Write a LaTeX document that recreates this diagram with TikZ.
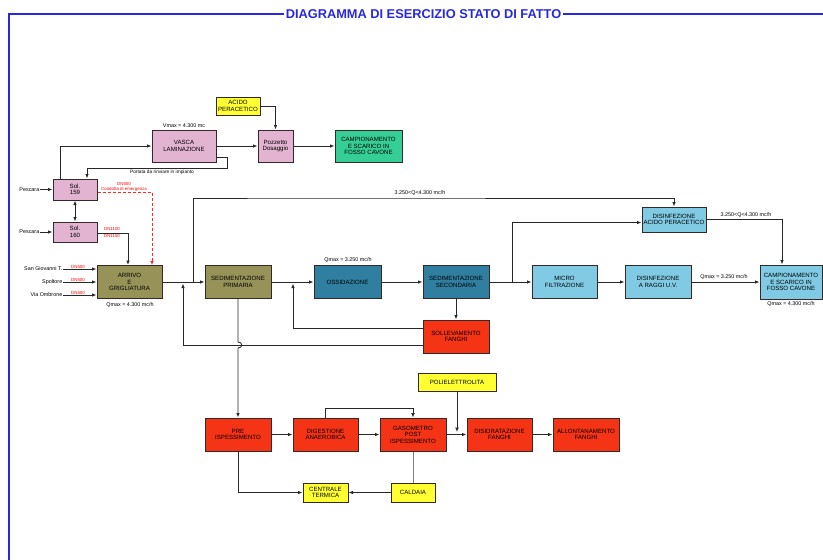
\documentclass[tikz,border=0pt]{standalone}
\usepackage{fontspec}
\setmainfont{Liberation Sans}
\usetikzlibrary{arrows.meta}
\definecolor{cpink}{RGB}{226,180,210}
\definecolor{colive}{RGB}{150,146,88}
\definecolor{cdblue}{RGB}{48,126,160}
\definecolor{clblue}{RGB}{128,202,228}
\definecolor{cred}{RGB}{245,52,22}
\definecolor{cyel}{RGB}{255,255,50}
\definecolor{cgreen}{RGB}{52,206,150}
\definecolor{cframe}{RGB}{40,40,225}
\definecolor{cbord}{RGB}{55,40,40}
\definecolor{cline}{RGB}{40,40,40}
\tikzset{
  bx/.style={draw=cbord, line width=1pt, inner sep=0pt, align=center,
    font=\fontsize{6.1}{6.6}\selectfont},
  conn/.style={draw=cline, line width=0.9pt},
  arr/.style={conn, -{Latex[length=4.5pt,width=3.5pt]}},
  darr/.style={conn, {Latex[length=4.5pt,width=3.5pt]}-{Latex[length=4.5pt,width=3.5pt]}},
  oarr/.style={conn, -{Latex[open,length=4.5pt,width=4pt]}},
  lbl/.style={inner sep=0.5pt, font=\fontsize{5.4}{5.8}\selectfont},
  rlbl/.style={inner sep=0.3pt, text=red, font=\fontsize{4.4}{4.8}\selectfont},
}
\begin{document}
\begin{tikzpicture}[x=1pt,y=-1pt]
\useasboundingbox (0,0) rectangle (823,560);
\fill[white] (0,0) rectangle (823,560);
% frame
\draw[cframe, line width=1.6pt] (9,560) -- (9,14) -- (823,14);
\node[fill=white, inner sep=1.5pt, text=cframe, font=\bfseries\fontsize{12.8}{13}\selectfont] (title) at (423.5,14) {DIAGRAMMA DI ESERCIZIO STATO DI FATTO};

% boxes
\node[bx, fill=cpink, minimum width=44pt, minimum height=21pt] (sol159) at (75,189.5) {Sol.\\159};
\node[bx, fill=cpink, minimum width=44pt, minimum height=20pt] (sol160) at (75,232) {Sol.\\160};
\node[bx, fill=cpink, minimum width=64pt, minimum height=32pt] (vasca) at (184,146) {VASCA\\LAMINAZIONE};
\node[bx, fill=cpink, minimum width=35pt, minimum height=32pt] (pozz) at (275.5,146) {Pozzetto\\Dosaggio};
\node[bx, fill=cyel, minimum width=44pt, minimum height=18pt] (acido) at (238,106) {ACIDO\\PERACETICO};
\node[bx, fill=cgreen, minimum width=67pt, minimum height=32pt] (camp1) at (368.5,146) {CAMPIONAMENTO\\E SCARICO IN\\FOSSO CAVONE};
\node[bx, fill=colive, minimum width=65pt, minimum height=33pt] (arrivo) at (129.5,282) {ARRIVO\\E\\GRIGLIATURA};
\node[bx, fill=colive, minimum width=66pt, minimum height=33pt] (sedp) at (238,282) {SEDIMENTAZIONE\\PRIMARIA};
\node[bx, fill=cdblue, minimum width=67pt, minimum height=33pt] (ossid) at (347.5,282) {OSSIDAZIONE};
\node[bx, fill=cdblue, minimum width=66pt, minimum height=33pt] (seds) at (456,282) {SEDIMENTAZIONE\\SECONDARIA};
\node[bx, fill=cred, minimum width=66pt, minimum height=33pt] (soll) at (456,336.5) {SOLLEVAMENTO\\FANGHI};
\node[bx, fill=clblue, minimum width=64pt, minimum height=25pt] (disac) at (674,219.5) {DISINFEZIONE\\ACIDO PERACETICO};
\node[bx, fill=clblue, minimum width=65pt, minimum height=33pt] (micro) at (564.5,282) {MICRO\\FILTRAZIONE};
\node[bx, fill=clblue, minimum width=66pt, minimum height=33pt] (uv) at (658,282) {DISINFEZIONE\\A RAGGI U.V.};
\node[bx, fill=clblue, minimum width=62pt, minimum height=34pt] (camp2) at (791,282) {CAMPIONAMENTO\\E SCARICO IN\\FOSSO CAVONE};
\node[bx, fill=cred, minimum width=66pt, minimum height=33pt] (pre) at (238,434.5) {PRE\\ISPESSIMENTO};
\node[bx, fill=cred, minimum width=65pt, minimum height=33pt] (dig) at (325.5,434.5) {DIGESTIONE\\ANAEROBICA};
\node[bx, fill=cred, minimum width=66pt, minimum height=33pt] (gas) at (413,434.5) {GASOMETRO\\POST\\ISPESSIMENTO};
\node[bx, fill=cred, minimum width=65pt, minimum height=33pt] (dis) at (499.5,434.5) {DISIDRATAZIONE\\FANGHI};
\node[bx, fill=cred, minimum width=66pt, minimum height=33pt] (all) at (586,434.5) {ALLONTANAMENTO\\FANGHI};
\node[bx, fill=cyel, minimum width=78pt, minimum height=18pt] (poli) at (457,382) {POLIELETTROLITA};
\node[bx, fill=cyel, minimum width=45pt, minimum height=19pt] (cent) at (325.5,492.5) {CENTRALE\\TERMICA};
\node[bx, fill=cyel, minimum width=44pt, minimum height=19pt] (cald) at (413,492.5) {CALDAIA};

% input labels
\node[lbl, anchor=east] (pesc1) at (40,189.5) {Pescara};
\node[lbl, anchor=east] (pesc2) at (40,232) {Pescara};
\node[lbl, anchor=east] (sgt) at (63,269) {San Giovanni T.};
\node[lbl, anchor=east] (spol) at (63,282) {Spoltore};
\node[lbl, anchor=east] (vomb) at (63,295) {Via Ombrone};

% top section connectors
\draw[arr] (pesc1.east) -- (sol159.west);
\draw[arr] (pesc2.east) -- (sol160.west);
\draw[darr] (sol159.south) -- (sol160.north);
\draw[arr] ([xshift=-15pt]sol159.north) |- (vasca.west);
\draw[arr] (vasca.east) -- (pozz.west);
\draw[arr] (acido.east) -| (pozz.north);
\draw[arr] (pozz.east) -- (camp1.west);
\draw[arr] ([yshift=-11pt]vasca.east) -| (227,168) -| ([xshift=12pt]sol159.north);
\node[lbl, font=\fontsize{4.8}{5.2}\selectfont, anchor=north] (port) at (162,169.5) {Portata da rinviare in impianto};
\node[lbl, anchor=south] (vmax) at (184,128) {Vmax = 4.300 mc};

% emergency line
\draw[red!85!white, line width=0.7pt, densely dashed, -{Latex[length=4pt,width=3.5pt]}] ([yshift=-2.5pt]sol159.east) -| ([xshift=22.5pt]arrivo.north);
\node[rlbl] (dnem) at (124,184) {DN500};
\node[rlbl] (condem) at (124,189.3) {Condotta di emergenza};

% sol160 to arrivo
\draw[arr] ([yshift=-1pt]sol160.east) -| ([xshift=-1.5pt]arrivo.north);
\node[rlbl, fill=white] (dn1) at (112,229) {DN1100};
\node[rlbl, fill=white] (dn2) at (112,236) {DN1150};

% inputs to arrivo
\draw[arr] (sgt.east) -- (sgt.east -| arrivo.west);
\draw[arr] (spol.east) -- (arrivo.west);
\draw[arr] (vomb.east) -- (vomb.east -| arrivo.west);
\node[rlbl] (dna) at (78,266.5) {DN500};
\node[rlbl] (dnb) at (78,279.5) {DN500};
\node[rlbl] (dnc) at (78,292.5) {DN500};
\node[lbl, anchor=north] (qa) at (130,302) {Qmax = 4.300 mc/h};

% main line
\draw[arr] (arrivo.east) -- (sedp.west);
\draw[arr] (193,282) |- (300,198) -| (disac.north);
\node[lbl, anchor=south] (qby) at (420,196) {3.250<Q<4.300 mc/h};
\draw[arr] (sedp.east) -- (ossid.west);
\node[lbl, anchor=south] (qox) at (348,263) {Qmax = 3.250 mc/h};
\draw[arr] (ossid.east) -- (seds.west);
\draw[arr] (seds.south) -- (soll.north);
\draw[arr] ([yshift=8.5pt]soll.west) -| (293,283.5);
\draw[arr] ([yshift=-8.5pt]soll.west) -| (183,283.5);
\draw[arr] (sedp.south) -- (238,342) .. controls (243,342) and (243,348) .. (238,348) -- (pre.north);

% tertiary
\draw[arr] (seds.east) -- (micro.west);
\draw[arr] (512,282) |- ([yshift=-3pt]disac.west);
\draw[arr] (micro.east) -- (uv.west);
\draw[arr] (uv.east) -- (camp2.west);
\node[lbl, anchor=south] (quv) at (724,280) {Qmax = 3.250 mc/h};
\draw[arr] (disac.east) -| ([xshift=-9pt]camp2.north);
\node[lbl, anchor=south] (qdis) at (746,218) {3.250<Q<4.300 mc/h};
\node[lbl, anchor=north] (qc2) at (791,301) {Qmax = 4.300 mc/h};

% sludge line
\draw[arr] (pre.east) -- (dig.west);
\draw[arr] (dig.east) -- (gas.west);
\draw[arr] (gas.east) -- (dis.west);
\draw[arr] (dis.east) -- (all.west);
\draw[oarr] (poli.south) -- (457,432);
\draw[oarr] (dig.north) -- ++(0,-9) -| (gas.north);
\draw[arr] (pre.south) |- (cent.west);
\draw[arr] (cald.west) -- (cent.east);
\draw[draw=gray, line width=0.7pt] (gas.south) -- (cald.north);
\end{tikzpicture}
\end{document}
